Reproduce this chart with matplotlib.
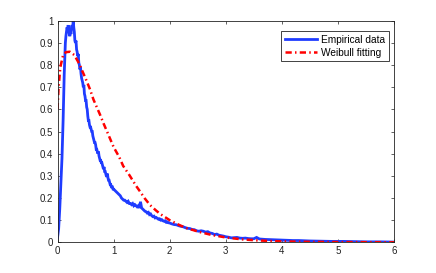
import matplotlib
matplotlib.use("Agg")
import matplotlib.pyplot as plt

emp_x = [0.00, 0.02, 0.04, 0.06, 0.08, 0.10, 0.12, 0.14, 0.15, 0.16, 0.17, 0.18, 0.19, 0.20,
         0.21, 0.22, 0.23, 0.24, 0.25, 0.26, 0.27, 0.28, 0.29, 0.30, 0.31, 0.32, 0.33, 0.34,
         0.35, 0.36, 0.37, 0.38, 0.39, 0.40, 0.41, 0.42, 0.43, 0.44, 0.45, 0.46, 0.47, 0.48,
         0.49, 0.50, 0.51, 0.52, 0.53, 0.54, 0.55, 0.56, 0.57, 0.58, 0.59, 0.60, 0.61, 0.62,
         0.63, 0.64, 0.65, 0.66, 0.67, 0.68, 0.69, 0.70, 0.71, 0.72, 0.73, 0.74, 0.75, 0.76,
         0.77, 0.78, 0.79, 0.80, 0.81, 0.82, 0.83, 0.84, 0.85, 0.86, 0.87, 0.88, 0.89, 0.90,
         0.91, 0.92, 0.93, 0.94, 0.95, 0.96, 0.97, 0.98, 0.99, 1.00, 1.02, 1.04, 1.06, 1.08,
         1.10, 1.12, 1.14, 1.16, 1.18, 1.20, 1.22, 1.24, 1.26, 1.28, 1.30, 1.32, 1.34, 1.36,
         1.38, 1.40, 1.42, 1.44, 1.46, 1.48, 1.50, 1.52, 1.54, 1.56, 1.58, 1.60, 1.62, 1.64,
         1.66, 1.68, 1.70, 1.72, 1.74, 1.76, 1.78, 1.80, 1.82, 1.84, 1.86, 1.88, 1.90, 1.92,
         1.94, 1.96, 1.98, 2.00, 2.04, 2.08, 2.12, 2.16, 2.20, 2.24, 2.28, 2.32, 2.36, 2.40,
         2.44, 2.48, 2.52, 2.56, 2.60, 2.64, 2.68, 2.72, 2.76, 2.80, 2.84, 2.88, 2.92, 2.96,
         3.00, 3.05, 3.10, 3.15, 3.20, 3.25, 3.30, 3.35, 3.40, 3.45, 3.50, 3.55, 3.60, 3.70,
         3.80, 3.90, 4.00, 4.10, 4.20, 4.30, 4.40, 4.50, 4.70, 4.90, 5.10, 5.30, 5.50, 5.75,
         6.00]
emp_y = [0.02, 0.06, 0.15, 0.26, 0.38, 0.55, 0.76, 0.90, 0.93, 0.95, 0.97, 0.96, 0.98, 0.96,
         0.94, 0.93, 0.95, 0.94, 0.97, 0.98, 0.96, 1.00, 0.97, 0.95, 0.91, 0.90, 0.91, 0.87,
         0.86, 0.84, 0.85, 0.81, 0.80, 0.78, 0.79, 0.76, 0.74, 0.73, 0.72, 0.70, 0.71, 0.67,
         0.66, 0.64, 0.64, 0.61, 0.60, 0.57, 0.55, 0.55, 0.53, 0.52, 0.52, 0.51, 0.50, 0.50,
         0.48, 0.47, 0.46, 0.45, 0.45, 0.44, 0.42, 0.42, 0.41, 0.40, 0.41, 0.39, 0.38, 0.37,
         0.37, 0.36, 0.36, 0.35, 0.34, 0.33, 0.34, 0.32, 0.32, 0.31, 0.30, 0.30, 0.31, 0.29,
         0.28, 0.28, 0.27, 0.26, 0.26, 0.25, 0.25, 0.25, 0.24, 0.24, 0.235, 0.23, 0.225, 0.22,
         0.215, 0.21, 0.20, 0.195, 0.19, 0.19, 0.185, 0.18, 0.185, 0.175, 0.175, 0.17, 0.175, 0.165,
         0.17, 0.165, 0.16, 0.165, 0.155, 0.183, 0.155, 0.15, 0.145, 0.14, 0.138, 0.132, 0.135, 0.125,
         0.128, 0.12, 0.116, 0.118, 0.11, 0.112, 0.108, 0.104, 0.106, 0.10, 0.102, 0.097, 0.095, 0.097,
         0.09, 0.092, 0.088, 0.087, 0.083, 0.08, 0.079, 0.075, 0.072, 0.07, 0.066, 0.063, 0.062, 0.058,
         0.057, 0.052, 0.05, 0.052, 0.05, 0.046, 0.048, 0.042, 0.04, 0.035, 0.037, 0.032, 0.03, 0.028,
         0.025, 0.023, 0.02, 0.021, 0.022, 0.019, 0.018, 0.019, 0.017, 0.016, 0.016, 0.022, 0.015, 0.013,
         0.012, 0.011, 0.01, 0.009, 0.008, 0.008, 0.007, 0.006, 0.005, 0.004, 0.004, 0.003, 0.002, 0.002,
         0.001]

fit_x = [0.00, 0.02, 0.05, 0.10, 0.15, 0.22, 0.30, 0.40, 0.43, 0.50, 0.58, 0.64, 0.70, 0.76,
         0.82, 0.90, 1.00, 1.10, 1.17, 1.29, 1.40, 1.47, 1.55, 1.65, 1.75, 1.83, 2.00, 2.18,
         2.30, 2.54, 2.75, 3.02, 3.30, 3.60, 4.00, 4.50, 5.00, 6.00]
fit_y = [0.60, 0.70, 0.79, 0.845, 0.858, 0.86, 0.845, 0.80, 0.78, 0.74, 0.69, 0.645, 0.61, 0.575,
         0.537, 0.49, 0.43, 0.385, 0.345, 0.30, 0.255, 0.23, 0.20, 0.168, 0.145, 0.128, 0.10, 0.077,
         0.064, 0.046, 0.033, 0.021, 0.013, 0.008, 0.004, 0.002, 0.001, 0.0]

x_ticks = [0, 1, 2, 3, 4, 5, 6]
y_ticks = [0, 0.1, 0.2, 0.3, 0.4, 0.5, 0.6, 0.7, 0.8, 0.9, 1]
y_labels = ["0", "0.1", "0.2", "0.3", "0.4", "0.5", "0.6", "0.7", "0.8", "0.9", "1"]

plt.rcParams['font.family'] = ['Liberation Sans', 'DejaVu Sans']

fig = plt.figure(figsize=(4.36, 2.73), dpi=100)
ax = fig.add_axes([57.5/436, 1 - 242.3/273, 336.5/436, 221.6/273])

ax.plot(emp_x, emp_y, color='#1f3cff', lw=2.0, label='Empirical data', solid_joinstyle='miter')
ax.plot(fit_x, fit_y, color='#ff0000', lw=1.8, linestyle=(0, (2.5, 1.3, 0.6, 1.3)),
        label='Weibull fitting')

ax.set_xlim(0, 6)
ax.set_ylim(0, 1)
ax.set_xticks(x_ticks)
ax.set_xticklabels([str(t) for t in x_ticks])
ax.set_yticks(y_ticks)
ax.set_yticklabels(y_labels)
ax.tick_params(direction='in', length=2.5, width=0.5, top=True, right=True,
               labelsize=7, pad=3, colors='#222222')
for s in ax.spines.values():
    s.set_linewidth(0.6)
    s.set_color('#222222')

leg = ax.legend(loc='upper right', bbox_to_anchor=(0.985, 0.9535), borderaxespad=0,
                fontsize=7.3, fancybox=False, framealpha=1, edgecolor='#222222',
                handlelength=3.2, borderpad=0.35, labelspacing=0.3, handletextpad=0.4)
leg.get_frame().set_linewidth(0.6)

fig.savefig('out.png', dpi=100)
